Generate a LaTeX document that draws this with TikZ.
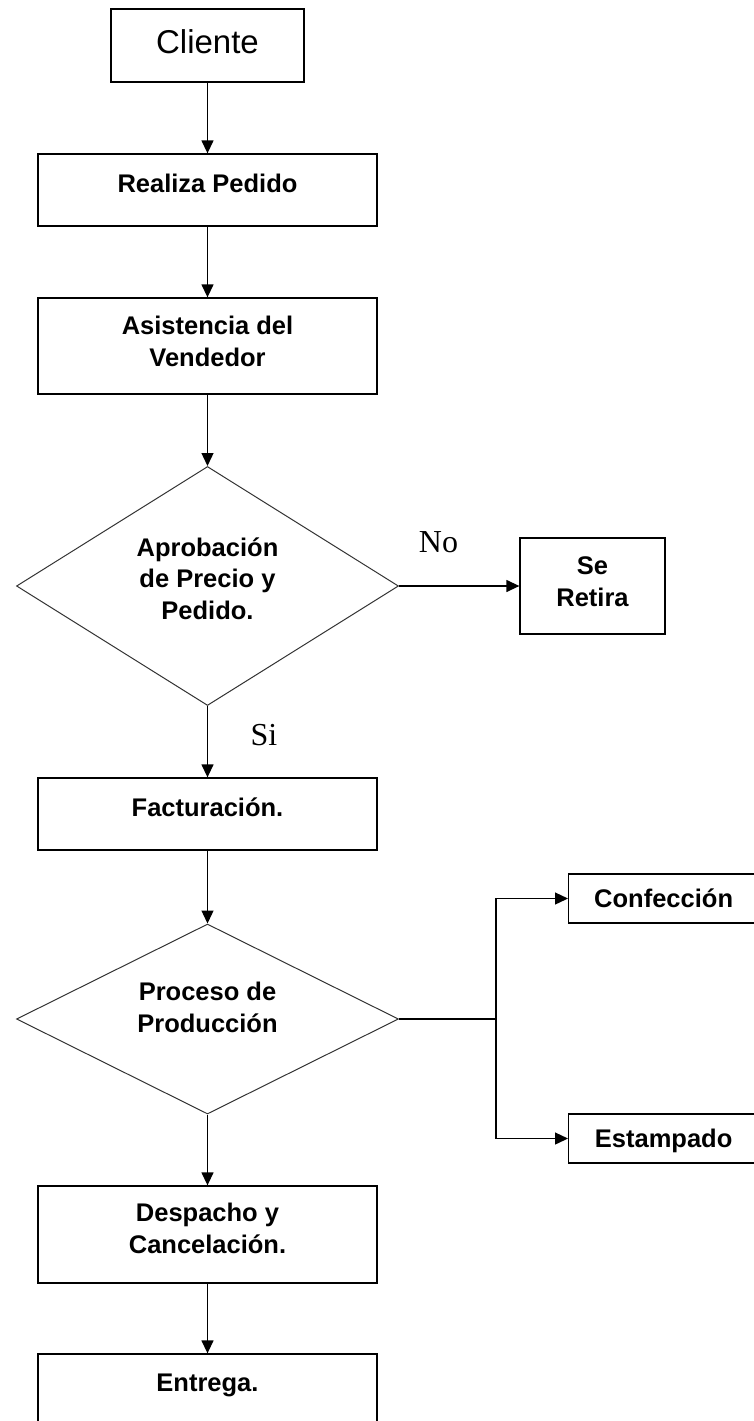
\documentclass[tikz,border=0pt]{standalone}
\usepackage{fontspec}
\setmainfont{Liberation Sans}
\newfontfamily\lblfont{Liberation Serif}
\usetikzlibrary{shapes.geometric,arrows.meta}
\begin{document}
\begin{tikzpicture}[x=1pt,y=-1pt,
  box/.style={draw, line width=1.3pt, rectangle, inner sep=0pt, align=center,
    font=\bfseries\fontsize{25.5}{32}\selectfont, text height=18pt},
  dia/.style={draw=black!80, line width=1pt, diamond, aspect=1.6, inner sep=0pt, align=center,
    font=\bfseries\fontsize{25.5}{31.5}\selectfont, text height=18pt},
  arr/.style={line width=1.3pt, -{Triangle[length=13pt,width=12pt]}},
  lbl/.style={font=\lblfont\fontsize{32}{36}\selectfont, inner sep=0pt}]
\useasboundingbox (0,0) rectangle (754,1421);
\node[box, minimum width=193pt, minimum height=73pt, font=\fontsize{33}{36}\selectfont, text height=24pt, text depth=9pt] (cli) at (207.5,45.5) {Cliente};
\node[box, minimum width=339pt, minimum height=72pt, text depth=14pt] (rea) at (207.5,190) {Realiza Pedido};
\node[box, minimum width=339pt, minimum height=96pt, text height=40pt, text depth=0pt] (asi) at (207.5,346) {Asistencia del\\Vendedor};
\node[dia, minimum width=382pt, minimum height=239pt, text height=66pt, text depth=0pt] (apr) at (207.5,586) {Aprobación\\de Precio y\\Pedido.};
\node[box, minimum width=145pt, minimum height=96pt, text height=40pt, text depth=0pt] (ret) at (592.5,586) {Se\\Retira};
\node[box, minimum width=339pt, minimum height=72pt, text depth=14pt] (fac) at (207.5,814) {Facturación.};
\node[dia, minimum width=382pt, minimum height=190pt, text height=26pt, text depth=0pt] (pro) at (207.5,1019) {Proceso de\\Producción};
\node[box, minimum width=190pt, minimum height=49pt, text depth=0pt, anchor=west] (con) at (568,898.5) {Confección};
\node[box, minimum width=190pt, minimum height=49pt, text depth=0pt, anchor=west] (est) at (568,1138.5) {Estampado};
\node[box, minimum width=339pt, minimum height=97pt, text height=37pt, text depth=0pt] (des) at (207.5,1234.5) {Despacho y\\Cancelación.};
\node[box, minimum width=339pt, minimum height=72pt, text depth=16pt] (ent) at (207.5,1390) {Entrega.};
\node[lbl] (no) at (438.5,542) {No};
\node[lbl] (si) at (264,735) {Si};
\coordinate (br) at (496,1019);
\draw[arr] (cli) -- (rea);
\draw[arr] (rea) -- (asi);
\draw[arr] (asi) -- (apr.north);
\draw[arr] (apr.east) -- (ret.west);
\draw[arr] (apr.south) -- (fac.north);
\draw[arr] (fac) -- (pro.north);
\draw[line width=1.3pt] (pro.east) -- (br);
\draw[arr] (br) |- (con.west);
\draw[arr] (br) |- (est.west);
\draw[arr] (pro.south) -- (des.north);
\draw[arr] (des) -- (ent);
\end{tikzpicture}
\end{document}
